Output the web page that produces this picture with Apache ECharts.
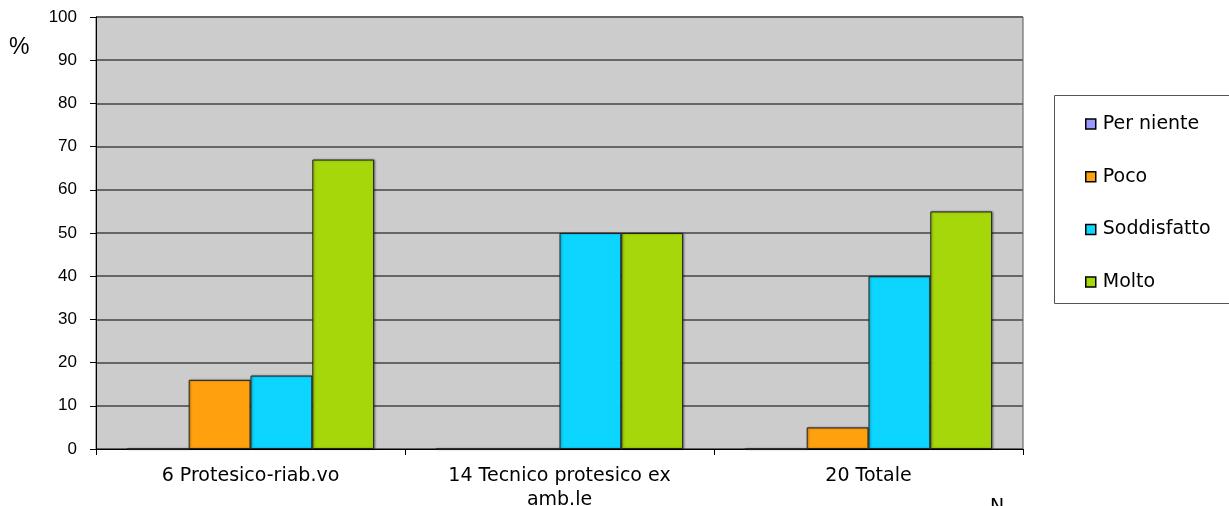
<!DOCTYPE html>
<html>
<head>
<meta charset="utf-8">
<script src="https://cdn.jsdelivr.net/npm/echarts@6/dist/echarts.min.js"></script>
<style>
html, body { margin: 0; padding: 0; background: #fff; }
#chart { width: 1229px; height: 506px; }
</style>
</head>
<body>
<div id="chart"></div>
<script>
// categorie e valori (%)
var categorie = ['6 Protesico-riab.vo', '14 Tecnico protesico ex\namb.le', '20 Totale'];
var perNiente = [0, 0, 0];
var poco = [16, 0, 5];
var soddisfatto = [17, 50, 40];
var molto = [67, 50, 55];
var yTicks = [0, 10, 20, 30, 40, 50, 60, 70, 80, 90, 100];

var font = 'DejaVu Sans';
var chart = echarts.init(document.getElementById('chart'));

function serie(nome, dati, colore) {
    return {
        name: nome,
        type: 'bar',
        data: dati,
        barGap: '0%',
        barCategoryGap: '20%',
        itemStyle: {
            color: colore,
            borderColor: '#222',
            borderWidth: 1,
            shadowColor: 'rgba(0,0,0,0.35)',
            shadowBlur: 2,
            shadowOffsetX: 1
        }
    };
}

var option = {
    animation: false,
    textStyle: { fontFamily: font },
    grid: {
        left: 96, right: 206, top: 17, bottom: 57,
        outerBoundsMode: 'none',
        containLabel: false,
        show: true,
        backgroundColor: '#cccccc',
        borderColor: '#555',
        borderWidth: 1
    },
    legend: {
        orient: 'vertical',
        left: 1085,
        top: 113,
        padding: 0,
        itemWidth: 10,
        itemHeight: 10,
        itemGap: 30.7,
        icon: 'rect',
        textStyle: { fontFamily: font, fontSize: 19, color: '#000', padding: [0, 0, 0, 2], lineHeight: 22 },
        itemStyle: { borderColor: '#000', borderWidth: 1.5 },
        data: ['Per niente', 'Poco', 'Soddisfatto', 'Molto']
    },
    xAxis: {
        type: 'category',
        data: categorie,
        axisLine: { lineStyle: { color: '#000', width: 1 } },
        axisTick: { show: true, length: 6, lineStyle: { color: '#000' } },
        axisLabel: {
            interval: 0,
            margin: 15,
            fontFamily: font,
            fontSize: 19,
            color: '#000',
            lineHeight: 24
        }
    },
    yAxis: {
        type: 'value',
        min: 0,
        max: 100,
        interval: 10,
        axisLine: { show: true, lineStyle: { color: '#000' } },
        axisTick: { show: true, length: 6, lineStyle: { color: '#000' } },
        axisLabel: {
            margin: 19,
            fontFamily: 'Liberation Sans',
            fontSize: 17,
            color: '#000',
            formatter: function (v) { return yTicks.indexOf(v) >= 0 ? String(v) : ''; }
        },
        splitLine: { lineStyle: { color: '#666', width: 2 } }
    },
    graphic: [
        {
            type: 'rect',
            shape: { x: 1054.5, y: 95.5, width: 200, height: 208 },
            style: { fill: 'none', stroke: '#555', lineWidth: 1 },
            silent: true
        },
        {
            type: 'text',
            left: 9, top: 36,
            style: { text: '%', fontFamily: 'Liberation Sans', fontSize: 23, fill: '#000' }
        },
        {
            type: 'text',
            left: 990, top: 498,
            style: { text: 'N', fontFamily: font, fontSize: 19, fill: '#000' }
        }
    ],
    series: [
        serie('Per niente', perNiente, '#9999ff'),
        serie('Poco', poco, '#ffa00f'),
        serie('Soddisfatto', soddisfatto, '#0cd5ff'),
        serie('Molto', molto, '#a6d70a')
    ]
};

chart.setOption(option);
</script>
</body>
</html>
